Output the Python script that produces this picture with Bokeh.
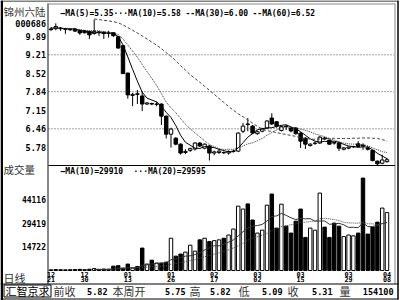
from bokeh.plotting import figure
from bokeh.models import Range1d, ColumnDataSource
from bokeh.core.properties import value
from bokeh.embed import file_html
from bokeh.resources import INLINE

nan = float("nan")

# ---------------- data ----------------
opens = [10.17, 10.18, 10.20, 10.17, 10.15, 10.17, 10.12, 10.10, 10.08, 10.00,
         10.06, 10.05, 10.01, 10.03, 9.88, 9.55, 8.53, 7.70, 7.76, 7.68,
         7.38, 7.40, 7.37, 7.38, 6.93, 6.26, 6.11, 5.89, 5.58, 5.66,
         5.71, 5.93, 5.74, 5.82, 5.56, 5.58, 5.58, 5.56, 5.62, 5.63,
         6.37, 6.64, 6.56, 6.28, 6.37, 6.49, 6.86, 6.72, 6.40, 6.56,
         6.49, 6.49, 6.30, 6.11, 5.84, 5.92, 5.93, 6.12, 6.04, 5.95,
         5.93, 5.70, 5.74, 5.79, 5.90, 5.85, 5.75, 5.66, 5.26, 5.18, 5.24]
highs = [10.24, 10.38, 10.24, 10.21, 10.18, 10.20, 10.14, 10.13, 10.10, 10.52,
         10.10, 10.08, 10.10, 10.05, 9.90, 9.57, 8.55, 7.80, 7.90, 7.86,
         7.45, 7.43, 7.46, 7.40, 6.95, 6.50, 6.15, 5.92, 5.70, 5.76,
         5.97, 5.97, 5.92, 5.86, 5.65, 5.70, 5.62, 5.66, 5.68, 6.33,
         6.68, 6.86, 6.60, 6.40, 6.50, 6.78, 7.04, 6.75, 6.58, 6.60,
         6.52, 6.52, 6.33, 6.15, 5.92, 5.98, 6.19, 6.16, 6.06, 5.97,
         5.95, 5.78, 5.80, 5.83, 6.00, 5.92, 5.82, 5.68, 5.27, 5.50, 5.38]
lows = [10.09, 10.12, 10.10, 9.99, 10.10, 10.06, 9.95, 10.00, 9.80, 9.96,
        9.91, 9.80, 9.85, 9.88, 9.44, 8.51, 7.58, 7.30, 7.38, 7.12,
        7.35, 7.34, 7.30, 6.60, 6.10, 5.76, 5.85, 5.50, 5.52, 5.60,
        5.65, 5.78, 5.70, 5.28, 5.48, 5.52, 5.52, 5.50, 5.58, 5.60,
        6.30, 6.37, 6.26, 6.24, 6.33, 6.45, 6.60, 6.50, 6.36, 6.42,
        6.33, 6.24, 5.75, 5.71, 5.80, 5.86, 5.90, 6.04, 5.86, 5.87,
        5.63, 5.66, 5.70, 5.75, 5.77, 5.68, 5.65, 5.25, 5.09, 5.14, 5.20]
closes = [10.15, 10.26, 10.18, 10.16, 10.14, 10.09, 10.02, 10.03, 9.95, 10.08,
          10.05, 10.00, 10.02, 9.92, 9.46, 8.51, 7.72, 7.74, 7.74, 7.38,
          7.42, 7.38, 7.38, 6.93, 6.26, 6.45, 5.89, 5.56, 5.62, 5.72,
          5.93, 5.82, 5.89, 5.56, 5.60, 5.63, 5.57, 5.62, 5.63, 6.30,
          6.56, 6.62, 6.30, 6.35, 6.45, 6.75, 6.64, 6.56, 6.54, 6.54,
          6.38, 6.28, 6.00, 5.89, 5.89, 5.93, 6.15, 6.08, 5.89, 5.93,
          5.74, 5.75, 5.78, 5.80, 5.80, 5.82, 5.70, 5.28, 5.16, 5.30, 5.31]
volumes = [400, 600, 500, 400, 500, 600, 700, 500, 800, 1200,
           700, 900, 800, 2700, 3000, 1500, 4000, 1500, 2500, 13900,
           4000, 6400, 4600, 4600, 5200, 20000, 8900, 10200, 11400, 15700,
           12000, 19000, 20000, 18000, 18500, 19000, 20000, 22000, 25700, 39900,
           38100, 41300, 31300, 23200, 25000, 40500, 47400, 26300, 41100, 27500,
           23200, 30600, 38100, 20500, 26300, 25000, 48000, 26900, 20500, 29400,
           27500, 21000, 22000, 21500, 23200, 57300, 22600, 26900, 30000, 38700, 35900]
ma5 = [10.20, 10.21, 10.20, 10.18, 10.18, 10.17, 10.12, 10.09, 10.05, 10.03,
       10.03, 10.02, 10.02, 10.01, 9.89, 9.58, 9.13, 8.67, 8.23, 7.82,
       7.60, 7.53, 7.46, 7.30, 7.07, 6.88, 6.58, 6.22, 5.96, 5.85,
       5.74, 5.73, 5.80, 5.78, 5.76, 5.70, 5.65, 5.60, 5.61, 5.75,
       5.94, 6.15, 6.28, 6.43, 6.46, 6.49, 6.50, 6.55, 6.59, 6.61,
       6.53, 6.46, 6.35, 6.22, 6.09, 6.00, 5.97, 5.99, 5.99, 6.00,
       5.96, 5.88, 5.82, 5.80, 5.77, 5.79, 5.78, 5.68, 5.55, 5.45, 5.35]
ma10 = [10.22, 10.21, 10.20, 10.19, 10.18, 10.16, 10.14, 10.12, 10.11, 10.11,
        10.10, 10.07, 10.05, 10.03, 9.96, 9.80, 9.57, 9.35, 9.12, 8.85,
        8.59, 8.33, 8.07, 7.77, 7.45, 7.24, 7.06, 6.84, 6.63, 6.46,
        6.31, 6.16, 6.01, 5.87, 5.80, 5.72, 5.69, 5.70, 5.70, 5.76,
        5.82, 5.90, 5.94, 6.02, 6.10, 6.22, 6.32, 6.42, 6.51, 6.53,
        6.51, 6.48, 6.45, 6.40, 6.35, 6.27, 6.22, 6.17, 6.10, 6.04,
        5.98, 5.93, 5.90, 5.89, 5.89, 5.87, 5.83, 5.75, 5.68, 5.61, 5.58]
ma30 = [nan, nan, nan, nan, nan, nan, nan, nan, nan, 10.54,
        10.52, 10.49, 10.47, 10.44, 10.40, 10.32, 10.22, 10.12, 10.02, 9.91,
        9.80, 9.68, 9.57, 9.44, 9.29, 9.15, 8.99, 8.81, 8.64, 8.47,
        8.33, 8.19, 8.04, 7.89, 7.74, 7.59, 7.44, 7.29, 7.15, 7.02,
        6.91, 6.79, 6.67, 6.55, 6.45, 6.39, 6.36, 6.32, 6.28, 6.25,
        6.21, 6.18, 6.13, 6.10, 6.08, 6.07, 6.08, 6.09, 6.10, 6.11,
        6.10, 6.10, 6.10, 6.11, 6.11, 6.12, 6.12, 6.11, 6.10, 6.06, 6.00]
vma10 = [nan] * 9 + [620,
         650, 680, 710, 940, 1190, 1280, 1610, 1710, 1880, 3150,
         3480, 4030, 4410, 4600, 4820, 6670, 7160, 8030, 8920, 9100,
         9900, 11160, 12700, 14040, 15370, 15270, 16380, 17560, 18990, 21410,
         24020, 26250, 27380, 27900, 28550, 30700, 33440, 33870, 35410, 34170,
         32680, 31610, 32290, 32020, 32150, 30600, 30660, 30720, 28660, 28850,
         29280, 28320, 26710, 26810, 26500, 29730, 27190, 27190, 28140, 29070, 29910]
vma20 = [nan] * 19 + [1885,
         2065, 2355, 2560, 2770, 3005, 3975, 4385, 4870, 5400, 6125,
         6690, 7595, 8555, 9320, 10095, 10970, 11770, 12795, 13955, 15255,
         16960, 18705, 20040, 20970, 21960, 22985, 24910, 25715, 27200, 27790,
         28350, 28930, 29835, 29960, 30350, 30650, 32050, 32295, 32035, 31510,
         30980, 29965, 29500, 29415, 29325, 30165, 28925, 28955, 28400, 28960, 29595]

price_ticks = [9.89, 9.21, 8.52, 7.84, 7.15, 6.46, 5.78]
price_grid = [9.21, 7.84, 6.46]
vol_ticks = [44116, 29419, 14722]
date_idx = [0, 7, 16, 25, 34, 43, 52, 62, 70]
date_mon = ["12", "12", "01", "01", "02", "03", "03", "03", "04"]
date_day = ["21", "30", "13", "26", "17", "02", "15", "29", "08"]
price_legend = ["—MA(5)=5.35", "···MA(10)=5.58", "--MA(30)=6.00", "--MA(60)=6.52"]
vol_legend = ["—MA(10)=29910", "···MA(20)=29595"]
stock_name = "锦州六陆"
stock_code = "000686"
info_labels = ["前收", "本周开", "高", "低", "收", "量"]
info_values = ["5.82", "5.75", "5.82", "5.09", "5.31", "154100"]

N = len(closes)
idx = list(range(N))

# ---------------- pixel layout helpers ----------------
X0, DX = 50.5, 4.8            # pixel of first candle, candle spacing


def fx(px):
    return (px - X0) / DX


def fp(py):                    # price value at a pixel row
    return 9.21 - (py - 54.3) / 26.91


def fv(py):                    # volume value at a pixel row
    return (270.0 - py) * 620.0


p = figure(width=400, height=300, output_backend="svg", toolbar_location=None,
           x_range=Range1d(fx(0), fx(400)), y_range=Range1d(fp(300), fp(0)),
           x_axis_location=None, y_axis_location=None, min_border=0,
           title=None, outline_line_color=None,
           background_fill_color="white", border_fill_color="white")
p.extra_y_ranges = {"vol": Range1d(fv(300), fv(0))}
for g in p.grid:
    g.visible = False

MONO = value("DejaVu Sans Mono")
CJK = value("Noto Sans CJK SC")


def seg(x0, y0, x1, y1, color="black", width=1.0, dash="solid"):
    p.segment(x0=[fx(x0)], y0=[fp(y0)], x1=[fx(x1)], y1=[fp(y1)],
              line_color=color, line_width=width, line_dash=dash)


def txt(xs, ys, texts, size, font=MONO, style="bold", align="left",
        color="black", rng="default"):
    p.text(x=xs, y=ys, text=texts, text_font=font, text_font_size=value(size),
           text_font_style=style, text_align=align, text_baseline="middle",
           text_color=color, y_range_name=rng)


# ---------------- frame lines ----------------
p.quad(left=[fx(0)], right=[fx(2.5)], bottom=[fp(300)], top=[fp(0)],
       fill_color="black", line_color=None)
seg(0, 0.5, 398, 0.5, "black", 1)
seg(47, 3.5, 394.5, 3.5, "#888888", 1)
seg(47.5, 3, 47.5, 283.5, "#888888", 2)
seg(394.5, 3, 394.5, 283.5, "#888888", 1)
seg(397.5, 0, 397.5, 299, "black", 1.5)
seg(48, 165, 394.5, 165, "black", 1)
seg(0, 283.5, 398, 283.5, "black", 1)
seg(0, 298.5, 398, 298.5, "black", 1)
# box around the software name
p.quad(left=[fx(3.5)], right=[fx(50.5)], bottom=[fp(296.5)], top=[fp(284.5)],
       fill_color=None, line_color="black", line_width=1)

# ---------------- price grid ----------------
p.segment(x0=[fx(48)] * len(price_grid), x1=[fx(393.5)] * len(price_grid),
          y0=price_grid, y1=price_grid, line_color="#444444", line_dash="1 2")

# ---------------- candles ----------------
fill = ["white" if c >= o else "black" for o, c in zip(opens, closes)]
src = ColumnDataSource(dict(
    x=idx, o=opens, h=highs, l=lows, c=closes,
    top=[max(o, c) for o, c in zip(opens, closes)],
    bot=[min(o, c) for o, c in zip(opens, closes)],
    fill=fill, vol=volumes))
p.segment(x0="x", x1="x", y0="l", y1="h", source=src, line_color="black", line_width=1)
p.vbar(x="x", width=0.72, top="top", bottom="bot", fill_color="fill",
       line_color="black", line_width=1, source=src)

p.line(idx, ma5, line_color="black", line_width=1)
p.line(idx, ma10, line_color="#333333", line_width=1, line_dash="1 1")
p.line(idx, ma30, line_color="#444444", line_width=1, line_dash="3 2")

# ---------------- volume ----------------
p.vbar(x="x", width=0.72, top="vol", bottom=0, fill_color="fill",
       line_color="black", line_width=1, source=src, y_range_name="vol")
p.line(idx, vma10, line_color="#333333", line_width=1, y_range_name="vol")
p.line(idx, vma20, line_color="#444444", line_width=1, line_dash="1 1",
       y_range_name="vol")

# ---------------- texts ----------------
txt([fx(p_) for p_ in (60, 113, 185, 252)], [fp(12.5)] * 4, price_legend, "8px")
txt([fx(p_) for p_ in (60, 133)], [fp(170.5)] * 2, vol_legend, "8px")

txt([fx(3)], [fp(11)], [stock_name], "10.5px", font=CJK, style="normal", color="#333333")
txt([fx(45.5)], [fp(22.5)], [stock_code], "8.5px", align="right")
txt([fx(45.5)] * len(price_ticks), price_ticks, [f"{t:.2f}" for t in price_ticks],
    "8.5px", align="right")
txt([fx(3)], [fp(168.5)], ["成交量"], "10.5px", font=CJK, style="normal", color="#333333")
txt([fx(45.5)] * len(vol_ticks), vol_ticks, [str(t) for t in vol_ticks], "8px",
    align="right", rng="vol")
txt([fx(3)], [fp(277.5)], ["日线"], "11px", font=CJK, style="normal", color="#333333")
txt(date_idx, [fp(273.5)] * len(date_idx), date_mon, "6.8px", align="center")
txt(date_idx, [fp(279.2)] * len(date_idx), date_day, "6.8px", align="center")

# bottom info bar
txt([fx(5)], [fp(290.5)], ["汇智京求"], "11px", font=CJK, style="normal")
txt([fx(p_) for p_ in (53, 112, 189, 238, 287, 339)], [fp(290.5)] * 6, info_labels,
    "11px", font=CJK, style="normal", color="#333333")
txt([fx(p_) for p_ in (107, 185, 230, 282, 332, 393)], [fp(290.5)] * 6, info_values,
    "8.5px", align="right")

open("out.html", "w").write(file_html(p, INLINE))
